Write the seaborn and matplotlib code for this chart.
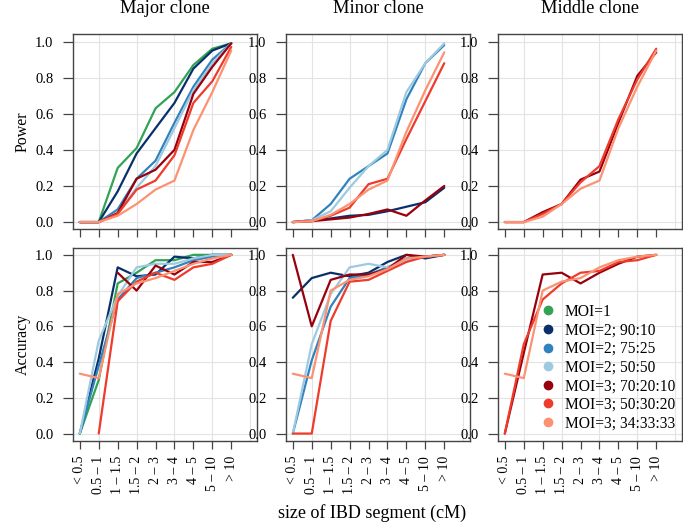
"""
Power and accuracy of IBD segment detection by segment size,
for the major, minor and middle clone (one column each).
"""
import numpy as np
import pandas as pd
import matplotlib
matplotlib.use("Agg")
import matplotlib.pyplot as plt
from matplotlib.lines import Line2D
import seaborn as sns

bins = ["< 0.5", "0.5 \u2013 1", "1 \u2013 1.5", "1.5 \u2013 2", "2 \u2013 3",
        "3 \u2013 4", "4 \u2013 5", "5 \u2013 10", "> 10"]

series = ["MOI=1", "MOI=2; 90:10", "MOI=2; 75:25", "MOI=2; 50:50",
          "MOI=3; 70:20:10", "MOI=3; 50:30:20", "MOI=3; 34:33:33"]
colors = ["#31a354", "#08306b", "#3182bd", "#9ecae1",
          "#99000d", "#ef3b2c", "#fc9272"]
nan = np.nan

# power
power_major = {
    "MOI=1":           [0, 0, 0.30, 0.41, 0.63, 0.72, 0.87, 0.96, 0.99],
    "MOI=2; 90:10":    [0, 0, 0.17, 0.38, 0.52, 0.66, 0.85, 0.95, 0.99],
    "MOI=2; 75:25":    [0, 0, 0.07, 0.24, 0.34, 0.55, 0.75, 0.90, 0.99],
    "MOI=2; 50:50":    [0, 0, 0.05, 0.19, 0.31, 0.52, 0.73, 0.88, 0.99],
    "MOI=3; 70:20:10": [0, 0, 0.05, 0.24, 0.29, 0.40, 0.71, 0.86, 0.99],
    "MOI=3; 50:30:20": [0, 0, 0.045, 0.18, 0.23, 0.37, 0.66, 0.78, 0.97],
    "MOI=3; 34:33:33": [0, 0, 0.035, 0.10, 0.18, 0.23, 0.51, 0.72, 0.95],
}
power_minor = {
    "MOI=2; 90:10":    [0, 0.01, 0.02, 0.035, 0.04, 0.06, 0.085, 0.11, 0.19],
    "MOI=2; 75:25":    [0, 0.01, 0.10, 0.24, 0.31, 0.38, 0.68, 0.88, 0.98],
    "MOI=2; 50:50":    [0, 0.01, 0.06, 0.19, 0.31, 0.40, 0.72, 0.88, 0.99],
    "MOI=3; 70:20:10": [0, 0.005, 0.015, 0.025, 0.045, 0.07, 0.035, 0.12, 0.20],
    "MOI=3; 50:30:20": [0, 0.005, 0.035, 0.08, 0.21, 0.24, 0.46, 0.67, 0.88],
    "MOI=3; 34:33:33": [0, 0.005, 0.04, 0.10, 0.18, 0.23, 0.50, 0.73, 0.94],
}
power_middle = {
    "MOI=3; 70:20:10": [0, 0, 0.055, 0.10, 0.235, 0.28, 0.55, 0.81, 0.94],
    "MOI=3; 50:30:20": [0, 0, 0.045, 0.10, 0.22, 0.31, 0.57, 0.79, 0.96],
    "MOI=3; 34:33:33": [0, 0, 0.03, 0.10, 0.185, 0.23, 0.52, 0.75, 0.95],
}

# accuracy
acc_major = {
    "MOI=1":           [0, 0.30, 0.84, 0.90, 0.97, 0.97, 1.0, 1.0, 1.0],
    "MOI=2; 90:10":    [0, 0.42, 0.93, 0.88, 0.89, 0.99, 0.98, 1.0, 1.0],
    "MOI=2; 75:25":    [0, 0.38, 0.75, 0.87, 0.90, 0.93, 0.97, 0.99, 1.0],
    "MOI=2; 50:50":    [0, 0.52, 0.77, 0.93, 0.95, 0.95, 0.98, 1.0, 1.0],
    "MOI=3; 70:20:10": [nan, nan, 0.90, 0.80, 0.94, 0.89, 0.96, 0.96, 1.0],
    "MOI=3; 50:30:20": [nan, 0, 0.74, 0.85, 0.90, 0.86, 0.93, 0.95, 1.0],
    "MOI=3; 34:33:33": [0.335, 0.31, 0.78, 0.84, 0.87, 0.91, 0.95, 0.98, 1.0],
}
acc_minor = {
    "MOI=2; 90:10":    [0.76, 0.87, 0.90, 0.88, 0.90, 0.96, 1.0, 0.98, 1.0],
    "MOI=2; 75:25":    [0, 0.41, 0.71, 0.87, 0.89, 0.93, 0.98, 0.99, 1.0],
    "MOI=2; 50:50":    [0, 0.50, 0.78, 0.93, 0.95, 0.93, 0.97, 0.99, 1.0],
    "MOI=3; 70:20:10": [1.0, 0.60, 0.86, 0.89, 0.89, 0.92, 1.0, 0.99, 1.0],
    "MOI=3; 50:30:20": [0, 0, 0.63, 0.85, 0.86, 0.91, 0.96, 0.99, 1.0],
    "MOI=3; 34:33:33": [0.335, 0.31, 0.80, 0.86, 0.88, 0.92, 0.98, 0.99, 1.0],
}
acc_middle = {
    "MOI=3; 70:20:10": [0, 0.45, 0.89, 0.90, 0.84, 0.90, 0.95, 0.99, 1.0],
    "MOI=3; 50:30:20": [0, 0.50, 0.75, 0.84, 0.90, 0.91, 0.96, 0.97, 1.0],
    "MOI=3; 34:33:33": [0.335, 0.31, 0.80, 0.85, 0.87, 0.93, 0.97, 0.99, 1.0],
}

titles = ["Major clone", "Minor clone", "Middle clone"]
power = [power_major, power_minor, power_middle]
acc = [acc_major, acc_minor, acc_middle]


def to_long(d):
    rows = []
    for name, vals in d.items():
        for i, v in enumerate(vals):
            rows.append({"series": name, "bin": i + 1, "value": v})
    return pd.DataFrame(rows)


sns.set_style("white")
plt.rcParams["font.family"] = ["Liberation Serif", "DejaVu Serif"]
plt.rcParams["text.color"] = "black"

palette = dict(zip(series, colors))
box_col = "#444444"
grid_col = "#e3e3e3"

fig = plt.figure(figsize=(6.83, 5.27), dpi=100)
lefts = [73 / 683, 286 / 683, 498 / 683]
w = 184 / 683
rows = [(1 - 229.3 / 527, 195 / 527), (1 - 440.7 / 527, 193 / 527)]

axes = []
for r, (data_row, (b, h)) in enumerate(zip([power, acc], rows)):
    for c in range(3):
        ax = fig.add_axes([lefts[c], b, w, h])
        df = to_long(data_row[c])
        order = [s for s in series if s in data_row[c]]
        sns.lineplot(data=df, x="bin", y="value", hue="series", hue_order=order,
                     palette=palette, ax=ax, legend=False, sort=False, lw=1.6)
        ax.set_xlim(0.64, 10.36)
        ax.set_ylim(-0.04, 1.04)
        for gx in [2, 4, 6, 8, 10]:
            ax.axvline(gx, color=grid_col, lw=0.8, zorder=0)
        for gy in np.arange(0, 1.01, 0.2):
            ax.axhline(gy, color=grid_col, lw=0.8, zorder=0)
        ax.set_xticks(range(1, 10))
        ax.set_yticks(np.arange(0, 1.01, 0.2))
        ax.set_yticklabels([f"{v:.1f}" for v in np.arange(0, 1.01, 0.2)])
        if r == 1:
            ax.set_xticklabels(bins, rotation=90)
        else:
            ax.set_xticklabels([])
            ax.set_title(titles[c], fontsize=13.2, pad=15, color="black")
        ax.tick_params(axis="y", direction="out", length=7, width=0.9,
                       color=box_col, labelcolor="black", labelsize=10.5,
                       pad=7, left=True)
        ax.tick_params(axis="x", direction="out", length=6, width=0.9,
                       color=box_col, labelcolor="black", labelsize=10,
                       pad=5, bottom=True)
        for sp in ax.spines.values():
            sp.set_color(box_col)
            sp.set_linewidth(1.0)
        ax.set_xlabel("")
        ax.set_ylabel("")
        axes.append(ax)

axes[0].set_ylabel("Power", fontsize=11.5, labelpad=3, color="black")
axes[3].set_ylabel("Accuracy", fontsize=11.5, labelpad=3, color="black")

handles = [Line2D([], [], marker="o", ls="", color=col, markersize=6)
           for col in colors]
axes[5].legend(handles, series, loc="upper left", bbox_to_anchor=(0.235, 0.71),
               frameon=False, fontsize=11.2, handlelength=0.9, handletextpad=0.6,
               labelspacing=0.17, borderaxespad=0, borderpad=0)

fig.text(372 / 683, 1 - 513 / 527, "size of IBD segment (cM)", ha="center",
         va="center", fontsize=13)

fig.savefig("out.png", dpi=100)
